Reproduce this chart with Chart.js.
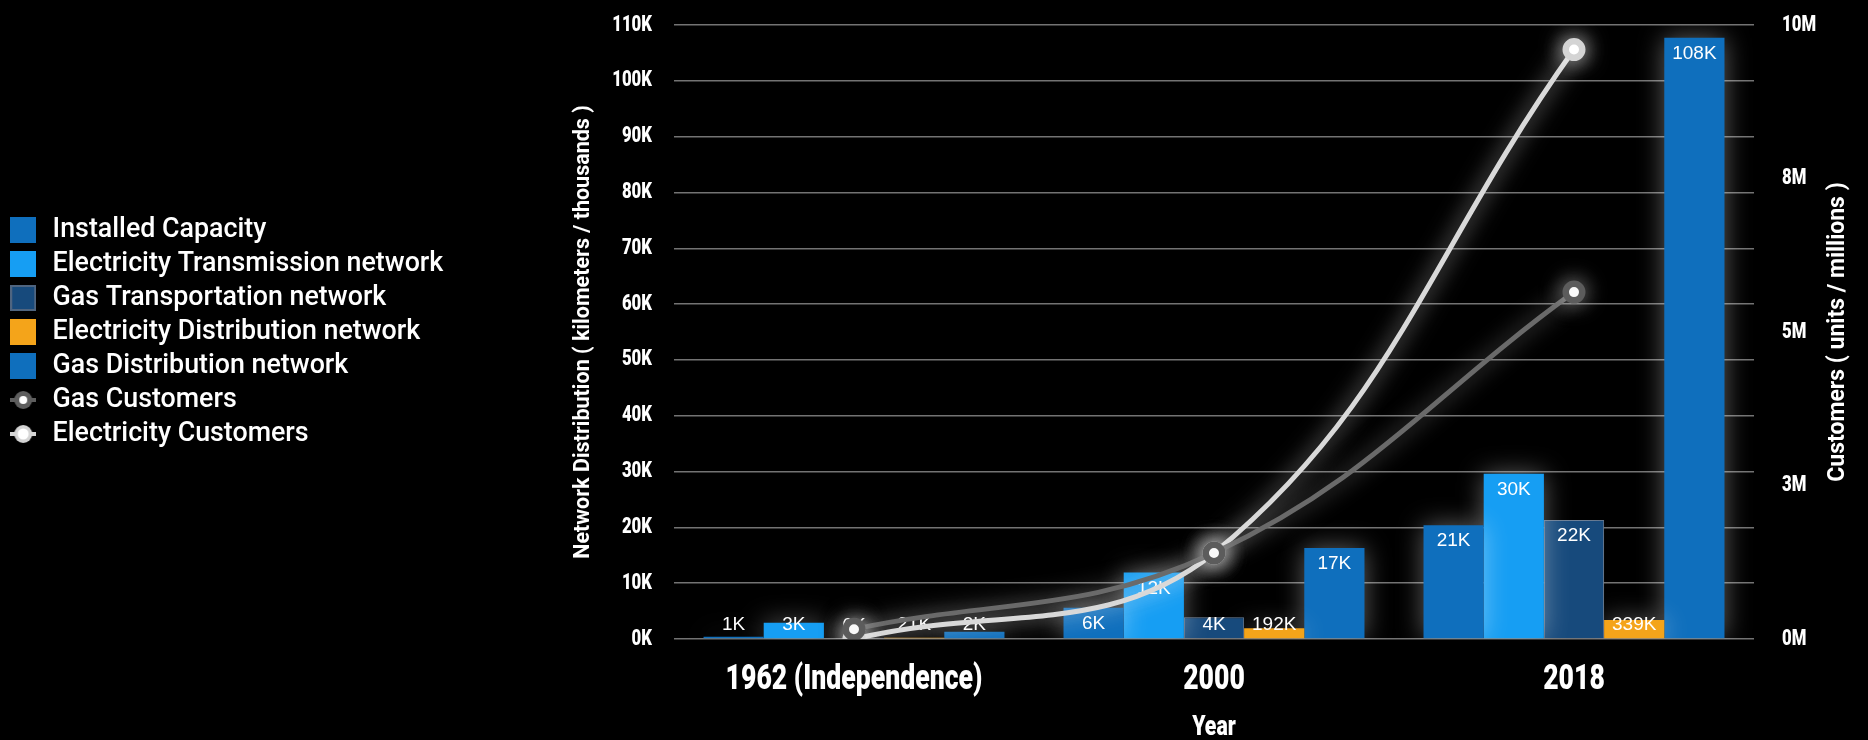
<!DOCTYPE html>
<html>
<head>
<meta charset="utf-8">
<title>Network Distribution</title>
<script src="https://cdn.jsdelivr.net/npm/chart.js@4.4.1/dist/chart.umd.min.js"></script>
<style>
    html, body { margin: 0; padding: 0; background: #000; }
    #wrap { width: 1868px; height: 740px; position: relative; }
</style>
</head>
<body>
<div id="wrap"><canvas id="chart"></canvas></div>
<script>
// categories
const years = ['1962 (Independence)', '2000', '2018'];

// network values, thousands of km
const installedCapacity = [0.4, 5.6, 20.4];
const elecTransmission = [2.9, 11.9, 29.6];
const gasTransport = [0, 3.9, 21.3];
const elecDistributionBar = [0.21, 1.92, 3.39];   // bar heights as drawn
const elecDistributionLabel = [21, 192, 339];     // values written on the bars
const gasDistribution = [1.3, 16.3, 107.7];

// customers, millions
const gasCustomers = [0.16, 1.4, 5.65];
const elecCustomers = [0, 1.4, 9.6];

// axis ranges / tick steps
const leftMax = 110, leftStep = 10;
const rightMax = 10, rightStep = 2.5;

const leftTitle = 'Network Distribution ( kilometers / thousands )';
const rightTitle = 'Customers ( units / millions )';

// "NarrowFace" is not a real font, it only marks text that gets squeezed
const narrow = "NarrowFace, Roboto, sans-serif";
const squeeze = 0.76;

const colors = ['#0f6fbd', '#169ef3', '#174a7c', '#f4a41a', '#0f6fbd'];

function squareIcon(color, border) {
    const c = document.createElement('canvas');
    c.width = 26; c.height = 26;
    const x = c.getContext('2d');
    x.fillStyle = color;
    x.fillRect(0, 0, 26, 26);
    if (border) {
        x.strokeStyle = border;
        x.lineWidth = 2;
        x.strokeRect(1, 1, 24, 24);
    }
    return c;
}

function pointIcon(ring, dotRadius) {
    const c = document.createElement('canvas');
    c.width = 26; c.height = 22;
    const x = c.getContext('2d');
    x.fillStyle = ring;
    x.fillRect(0, 9, 26, 4);
    x.beginPath(); x.arc(13, 11, 9, 0, Math.PI * 2); x.fill();
    x.fillStyle = '#fff';
    x.beginPath(); x.arc(13, 11, dotRadius, 0, Math.PI * 2); x.fill();
    return c;
}

const legendIcons = [
    squareIcon(colors[0]),
    squareIcon(colors[1]),
    squareIcon(colors[2], '#4f6580'),
    squareIcon(colors[3]),
    squareIcon(colors[4]),
    pointIcon('#5e5e5e', 4),
    pointIcon('#d4d4d4', 5.5)
];

function drawBarLabels(chart) {
    const ctx = chart.ctx;
    ctx.save();
    ctx.fillStyle = '#fff';
    ctx.font = "19px 'Liberation Sans', Arial, sans-serif";
    ctx.textAlign = 'center';
    ctx.textBaseline = 'middle';
    chart.data.datasets.forEach(function (ds, i) {
        if (ds.type !== 'bar') return;
        chart.getDatasetMeta(i).data.forEach(function (bar, j) {
            const y = Math.min(bar.base - 13, bar.y + 16);
            ctx.fillText(Math.ceil(ds.valueLabels[j]) + 'K', bar.x, y);
        });
    });
    ctx.restore();
}

// condensed look for the axis text (no condensed font installed)
const condensePlugin = {
    id: 'condense',
    beforeInit(chart) {
        const c = chart.ctx;
        const fill = c.fillText.bind(c);
        c.fillText = function (text, x, y, maxWidth) {
            if (c.font.indexOf('NarrowFace') < 0) {
                return maxWidth === undefined ? fill(text, x, y) : fill(text, x, y, maxWidth);
            }
            c.save();
            c.translate(x, y);
            c.scale(squeeze, 1);
            fill(text, 0, 0);
            c.restore();
        };
    }
};

// glow behind bars and lines, bar labels go under the lines
const glowPlugin = {
    id: 'glow',
    beforeDatasetsDraw(chart) { chart.$labelsDone = false; },
    beforeDatasetDraw(chart, args) {
        const ds = chart.data.datasets[args.index];
        if (ds.type === 'line' && !chart.$labelsDone) {
            drawBarLabels(chart);
            chart.$labelsDone = true;
        }
        chart.ctx.save();
        chart.ctx.shadowColor = ds.glowColor;
        chart.ctx.shadowBlur = ds.glowBlur;
    },
    afterDatasetDraw(chart) { chart.ctx.restore(); }
};

// rotated titles for both value axes
const axisTitles = {
    id: 'axisTitles',
    afterDraw(chart) {
        const {ctx, chartArea} = chart;
        const cy = (chartArea.top + chartArea.bottom) / 2;
        ctx.save();
        ctx.fillStyle = '#fff';
        ctx.textAlign = 'center';
        ctx.textBaseline = 'middle';
        [[chartArea.left - 90, leftTitle, 21.5], [chartArea.right + 84, rightTitle, 23]].forEach(function (t) {
            ctx.save();
            ctx.font = 'bold ' + t[2] + 'px Roboto, sans-serif';
            ctx.translate(t[0], cy);
            ctx.rotate(-Math.PI / 2);
            ctx.fillText(t[1], 0, 0);
            ctx.restore();
        });
        ctx.restore();
    }
};

function barSet(label, data, labels, color, border) {
    return {
        type: 'bar',
        label: label,
        data: data,
        valueLabels: labels,
        backgroundColor: color,
        borderColor: border || color,
        borderWidth: border ? 1 : 0,
        yAxisID: 'y',
        order: 1,
        barPercentage: 1,
        categoryPercentage: 0.836,
        pointStyle: 'rect',
        glowColor: 'rgba(255,255,255,0.38)',
        glowBlur: 26
    };
}

function lineSet(label, data, line, ring, glow) {
    return {
        type: 'line',
        label: label,
        data: data,
        yAxisID: 'y1',
        order: 0,
        borderColor: line,
        borderWidth: 5,
        tension: 0.4,
        fill: false,
        pointRadius: 8.25,
        pointHoverRadius: 8.25,
        pointBorderWidth: 6.5,
        pointBackgroundColor: '#fff',
        pointBorderColor: ring,
        glowColor: glow,
        glowBlur: 22
    };
}

const ctx = document.getElementById('chart').getContext('2d');

new Chart(ctx, {
    data: {
        labels: years,
        datasets: [
            barSet('Installed Capacity', installedCapacity, installedCapacity, colors[0]),
            barSet('Electricity Transmission network', elecTransmission, elecTransmission, colors[1]),
            barSet('Gas Transportation network', gasTransport, gasTransport, colors[2], '#4f6580'),
            barSet('Electricity Distribution network', elecDistributionBar, elecDistributionLabel, colors[3]),
            barSet('Gas Distribution network', gasDistribution, gasDistribution, colors[4]),
            lineSet('Gas Customers', gasCustomers, '#6a6a6a', '#5c5c5c', 'rgba(220,220,220,0.55)'),
            lineSet('Electricity Customers', elecCustomers, '#d9d9d9', '#d4d4d4', 'rgba(255,255,255,0.75)')
        ]
    },
    options: {
        responsive: true,
        maintainAspectRatio: false,
        animation: false,
        layout: { padding: { top: 25, right: 0, bottom: 0, left: 0 } },
        plugins: {
            tooltip: { enabled: false },
            legend: {
                position: 'left',
                align: 'center',
                fullSize: false,
                maxWidth: 480,
                labels: {
                    color: '#fff',
                    font: { family: 'Roboto', size: 26.8, weight: '500' },
                    usePointStyle: true,
                    pointStyleWidth: 32,
                    boxHeight: 26,
                    padding: 7.2,
                    sort: function (a, b) { return a.datasetIndex - b.datasetIndex; },
                    generateLabels: function (chart) {
                        const items = Chart.defaults.plugins.legend.labels.generateLabels(chart);
                        items.forEach(function (it) { it.pointStyle = legendIcons[it.datasetIndex]; });
                        return items;
                    }
                }
            }
        },
        scales: {
            x: {
                grid: { display: false },
                border: { display: false },
                ticks: {
                    color: '#fff',
                    font: { family: narrow, size: 35, weight: '900' },
                    padding: 12,
                    maxRotation: 0,
                    autoSkip: false
                },
                title: {
                    display: true,
                    text: 'Year',
                    color: '#fff',
                    font: { family: narrow, size: 28, weight: '900', lineHeight: 0.86 },
                    padding: { top: 0, bottom: 0 }
                },
                afterFit: function (scale) { scale.height = 101; }
            },
            y: {
                position: 'left',
                min: 0,
                max: leftMax,
                grid: {
                    color: 'rgba(255,255,255,0.45)',
                    lineWidth: 1.5,
                    drawTicks: true,
                    tickLength: 20,
                    tickColor: 'rgba(0,0,0,0)'
                },
                border: { display: false },
                ticks: {
                    stepSize: leftStep,
                    color: '#fff',
                    font: { family: narrow, size: 22, weight: '900' },
                    padding: 2,
                    callback: function (v) { return v + 'K'; }
                },
                afterFit: function (scale) {
                    const lw = scale.chart.legend ? scale.chart.legend.width : 0;
                    scale.width = 674 - lw;
                }
            },
            y1: {
                position: 'right',
                min: 0,
                max: rightMax,
                grid: {
                    drawOnChartArea: false,
                    drawTicks: true,
                    tickLength: 26,
                    tickColor: 'rgba(0,0,0,0)'
                },
                border: { display: false },
                ticks: {
                    stepSize: rightStep,
                    color: '#fff',
                    font: { family: narrow, size: 22, weight: '900' },
                    padding: 2,
                    callback: function (v) { return Math.round(v) + 'M'; }
                },
                afterFit: function (scale) { scale.width = 114; }
            }
        }
    },
    plugins: [condensePlugin, glowPlugin, axisTitles]
});
</script>
</body>
</html>
